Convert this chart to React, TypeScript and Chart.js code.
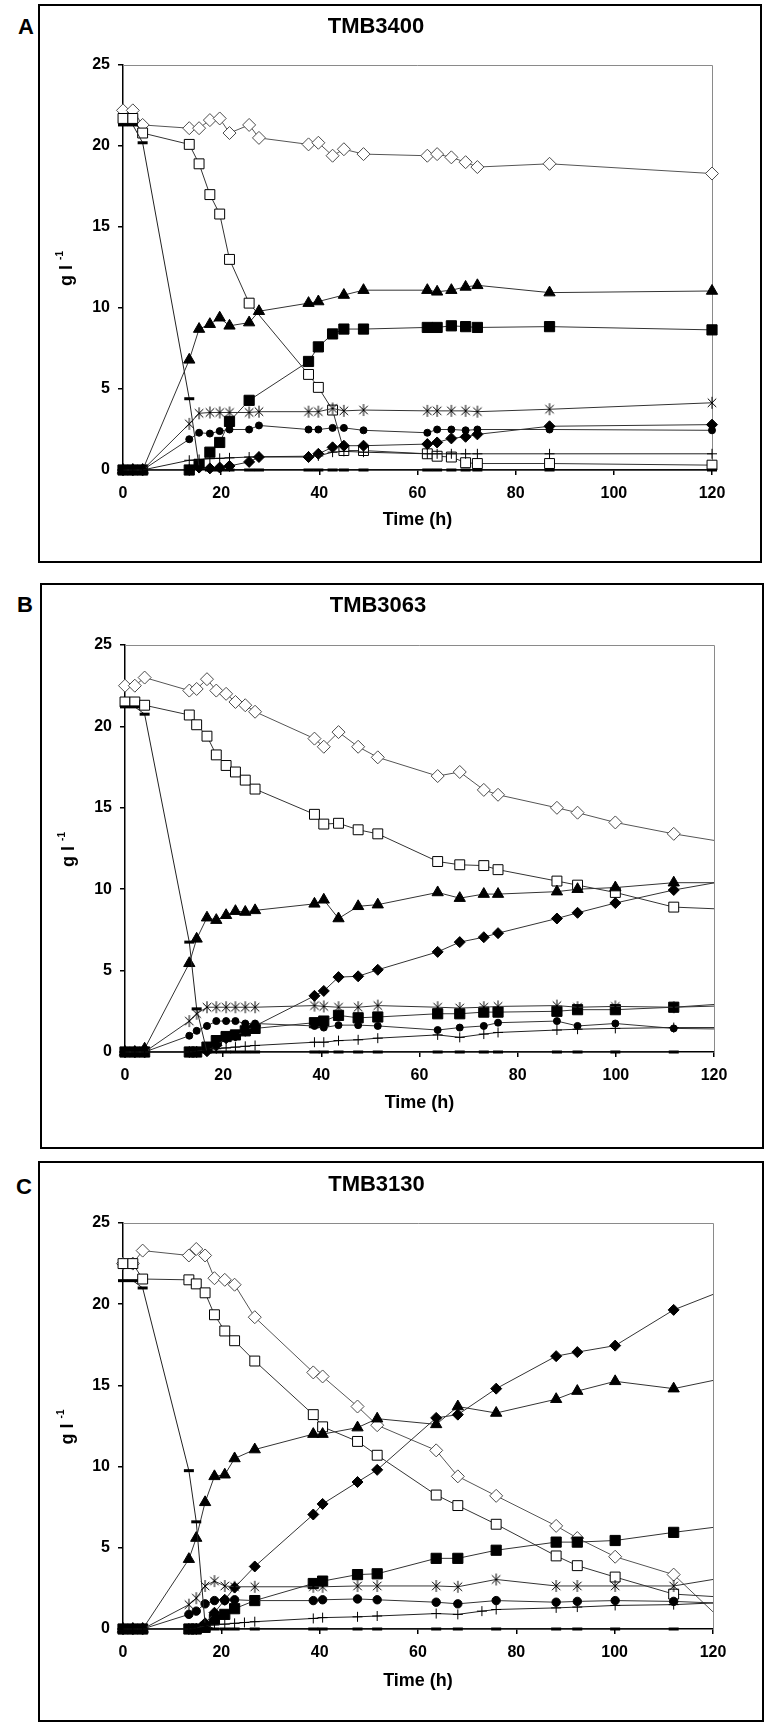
import React, { useEffect, useRef } from 'react';
import { Chart, registerables } from 'chart.js';

Chart.register(...registerables);

const FONT = '"Liberation Sans", Arial, Helvetica, sans-serif';

// ---------------- Panel A: TMB3400 ----------------
const timesA = [0, 2, 4, 13.5, 15.5, 17.7, 19.7, 21.7, 25.7, 27.7, 37.8, 39.8, 42.7, 45, 49, 62, 64, 66.9, 69.8, 72.2, 86.9, 120];
const openDiamondA = [22.2, 22.2, 21.3, 21.1, 21.1, 21.6, 21.7, 20.8, 21.3, 20.5, 20.1, 20.2, 19.4, 19.8, 19.5, 19.4, 19.5, 19.3, 19.0, 18.7, 18.9, 18.3];
const openSquareA = [21.7, 21.7, 20.8, 20.1, 18.9, 17.0, 15.8, 13.0, 10.3, null, 5.9, 5.1, 3.7, 1.2, 1.2, 1.0, 0.85, 0.8, 0.45, 0.4, 0.4, 0.3];
const triangleA = [0, 0, 0, 6.8, 8.7, 9.0, 9.4, 8.9, 9.1, 9.8, 10.3, 10.4, null, 10.8, 11.1, 11.1, 11.0, 11.1, 11.3, 11.4, 10.95, 11.05];
const filledSquareA = [0, 0, 0, 0, 0.35, 1.1, 1.7, 3.0, 4.3, null, 6.7, 7.6, 8.4, 8.7, 8.7, 8.8, 8.8, 8.9, 8.85, 8.8, 8.85, 8.65];
const asteriskA = [0, 0, 0, 2.85, 3.5, 3.55, 3.55, 3.55, 3.55, 3.6, 3.6, 3.6, 3.8, 3.65, 3.7, 3.65, 3.65, 3.65, 3.65, 3.6, 3.75, 4.15];
const circleA = [0, 0, 0, 1.9, 2.3, 2.25, 2.4, 2.5, 2.5, 2.75, 2.5, 2.5, 2.6, 2.6, 2.45, 2.3, 2.5, 2.5, 2.45, 2.5, 2.5, 2.45];
const filledDiamondA = [0, 0, 0, 0, 0.15, 0.1, 0.15, 0.25, 0.5, 0.8, 0.8, 1.0, 1.4, 1.5, 1.5, 1.6, 1.7, 1.95, 2.05, 2.2, 2.7, 2.8];
const plusA = [0, 0, 0, 0.6, 0.65, 0.7, 0.72, 0.75, 0.8, 0.82, 0.85, 0.87, 1.1, 1.15, 1.1, 1.0, 1.0, 1.0, 1.0, 1.0, 1.0, 1.0];
const dashA = [21.3, 21.3, 20.2, 4.4, 0.2, 0, 0, 0, 0, 0, 0, 0, 0, 0, 0, 0, 0, 0, 0, 0, 0, 0];

// ---------------- Panel B: TMB3063 ----------------
const timesB = [0, 2, 4, 13.1, 14.6, 16.7, 18.6, 20.6, 22.5, 24.5, 26.5, 38.6, 40.5, 43.5, 47.5, 51.5, 63.7, 68.2, 73.1, 76, 88, 92.2, 99.9, 111.8, 124];
const openDiamondB = [22.5, 22.5, 23.0, 22.2, 22.3, 22.9, 22.2, 22.0, 21.5, 21.3, 20.9, 19.25, 18.75, 19.65, 18.75, 18.1, 16.95, 17.2, 16.1, 15.8, 15.0, 14.7, 14.1, 13.4, 12.8];
const openSquareB = [21.5, 21.5, 21.3, 20.7, 20.1, 19.4, 18.25, 17.6, 17.2, 16.7, 16.15, 14.6, 14.0, 14.05, 13.65, 13.4, 11.7, 11.5, 11.45, 11.2, 10.5, 10.25, 9.8, 8.9, 8.75];
const triangleB = [0, 0, 0.2, 5.45, 6.95, 8.25, 8.1, 8.4, 8.65, 8.6, 8.7, 9.1, 9.35, 8.2, 8.95, 9.05, 9.8, 9.45, 9.7, 9.7, 9.85, 10.0, 10.1, 10.4, 10.4];
const filledSquareB = [0, 0, 0, 0, 0, 0.3, 0.7, 0.95, 1.05, 1.3, 1.45, 1.8, 1.9, 2.25, 2.1, 2.15, 2.35, 2.35, 2.45, 2.45, 2.5, 2.6, 2.6, 2.75, 2.85];
const asteriskB = [0, 0, 0, 1.9, 2.35, 2.75, 2.75, 2.75, 2.75, 2.75, 2.75, 2.85, 2.8, 2.75, 2.75, 2.85, 2.75, 2.7, 2.75, 2.8, 2.85, 2.75, 2.8, 2.75, 3.0];
const circleB = [0, 0, 0, 1.0, 1.3, 1.6, 1.9, 1.9, 1.9, 1.75, 1.75, 1.6, 1.5, 1.65, 1.65, 1.6, 1.35, 1.5, 1.6, 1.8, 1.9, 1.6, 1.75, 1.45, 1.4];
const filledDiamondB = [0, 0, 0, 0, 0, 0.05, 0.4, 0.85, 1.0, 1.3, 1.6, 3.45, 3.75, 4.6, 4.65, 5.05, 6.15, 6.75, 7.05, 7.3, 8.2, 8.55, 9.15, 9.95, 10.6];
const plusB = [0, 0, 0, 0, 0.05, 0.15, 0.2, 0.25, 0.3, 0.35, 0.4, 0.6, 0.6, 0.7, 0.75, 0.85, 1.05, 0.9, 1.1, 1.2, 1.35, 1.4, 1.45, 1.5, 1.5];
const dashB = [21.2, 21.2, 20.75, 6.75, 2.65, 0, 0, 0, 0, 0, 0, 0, 0, 0, 0, 0, 0, 0, 0, 0, 0, 0, 0, 0, null];

// ---------------- Panel C: TMB3130 ----------------
const timesC = [0, 2, 4, 13.4, 14.9, 16.7, 18.6, 20.7, 22.7, 24.7, 26.8, 38.7, 40.6, 47.7, 51.7, 63.7, 68.1, 73, 75.9, 88.1, 92.4, 100.1, 112, 122];
const openDiamondC = [22.5, 22.5, 23.3, 23.0, 23.4, 23.0, 21.6, 21.5, 21.2, null, 19.2, 15.8, 15.55, 13.7, 12.55, 11.0, 9.4, null, 8.2, 6.35, 5.6, 4.45, 3.35, 0.48];
const openSquareC = [22.5, 22.5, 21.55, 21.5, 21.25, 20.7, 19.35, 18.35, 17.75, null, 16.5, 13.2, 12.45, 11.55, 10.7, 8.25, 7.6, null, 6.45, 4.5, 3.9, 3.2, 2.15, 1.96];
const triangleC = [0, 0, 0, 4.3, 5.6, 7.8, 9.4, 9.5, 10.5, null, 11.05, 12.0, 12.0, 12.4, 12.95, 12.6, 13.7, null, 13.3, 14.15, 14.65, 15.25, 14.8, 15.43];
const filledSquareC = [0, 0, 0, 0, 0, 0.1, 0.6, 0.9, 1.25, null, 1.75, 2.8, 2.95, 3.35, 3.4, 4.35, 4.35, null, 4.85, 5.35, 5.35, 5.45, 5.95, 6.33];
const asteriskC = [0, 0, 0, 1.5, 1.9, 2.65, 2.95, 2.65, 2.6, null, 2.6, 2.6, 2.6, 2.65, 2.65, 2.65, 2.6, null, 3.05, 2.65, 2.65, 2.65, 2.65, 3.15];
const circleC = [0, 0, 0, 0.9, 1.1, 1.55, 1.75, 1.75, 1.8, null, 1.75, 1.75, 1.8, 1.85, 1.8, 1.65, 1.55, null, 1.75, 1.65, 1.7, 1.75, 1.7, 1.58];
const filledDiamondC = [0, 0, 0, 0, 0, 0.35, 1.0, 1.8, 2.55, null, 3.85, 7.05, 7.7, 9.05, 9.8, 13.0, 13.2, null, 14.8, 16.8, 17.05, 17.45, 19.65, 20.84];
const plusC = [0, 0, 0, 0, 0.05, 0.2, 0.25, 0.3, 0.35, 0.4, 0.45, 0.65, 0.7, 0.75, 0.8, 0.95, 0.9, 1.1, 1.2, 1.3, 1.35, 1.45, 1.5, 1.63];
const dashC = [21.45, 21.45, 21.0, 9.75, 6.6, 0.3, 0, 0, 0, null, 0, 0, 0, 0, 0, 0, 0, null, 0, 0, 0, 0, 0, null];

// axis ticks
const xTickStep = 20;
const xMin = 0;
const xMax = 120;
const yTickStep = 5;
const yMin = 0;
const yMax = 25;

// ---------------- styles ----------------
type Style = {
  key: string;
  pointStyle: string;
  radius: number;
  bg: string;
  border: string;
  bw: number;
  line: string;
};

const STYLES: Style[] = [
  { key: 'dash', pointStyle: 'line', radius: 5, bg: '#000', border: '#000', bw: 3, line: '#222' },
  { key: 'plus', pointStyle: 'cross', radius: 5, bg: '#000', border: '#000', bw: 1, line: '#222' },
  { key: 'circle', pointStyle: 'circle', radius: 3.5, bg: '#000', border: '#000', bw: 1, line: '#333' },
  { key: 'asterisk', pointStyle: 'asterisk', radius: 6, bg: '#000', border: '#000', bw: 1, line: '#333' },
  { key: 'filledDiamond', pointStyle: 'rectRot', radius: 5.5, bg: '#000', border: '#000', bw: 1, line: '#333' },
  { key: 'filledSquare', pointStyle: 'rect', radius: 7.2, bg: '#000', border: '#000', bw: 1, line: '#333' },
  { key: 'triangle', pointStyle: 'triangle', radius: 6.5, bg: '#000', border: '#000', bw: 1, line: '#333' },
  { key: 'openSquare', pointStyle: 'rect', radius: 7, bg: '#fff', border: '#000', bw: 1, line: '#333' },
  { key: 'openDiamond', pointStyle: 'rectRot', radius: 6.5, bg: '#fff', border: '#4a4a4a', bw: 1, line: '#555' },
];

type PanelCfg = {
  letter: string;
  title: string;
  times: number[];
  series: Record<string, (number | null)[]>;
  box: { left: number; top: number; w: number; h: number };
  plotLeft: number;
  plotRight: number;
  plotTop: number;
  plotBottom: number;
  titleY: number;
  xTitleY: number;
  yTitleX: number;
  letterPos: { x: number; y: number };
  clipRight: number;
  circleR: number;
};

const PANELS: PanelCfg[] = [
  {
    letter: 'A',
    title: 'TMB3400',
    times: timesA,
    series: {
      openDiamond: openDiamondA, openSquare: openSquareA, triangle: triangleA, filledSquare: filledSquareA,
      asterisk: asteriskA, circle: circleA, filledDiamond: filledDiamondA, plus: plusA, dash: dashA,
    },
    box: { left: 38, top: 4, w: 724, h: 559 },
    plotLeft: 83, plotRight: 672, plotTop: 59, plotBottom: 464,
    titleY: 21, xTitleY: 514.5, yTitleX: 27,
    letterPos: { x: 26, y: 27 },
    clipRight: 12, circleR: 3.5,
  },
  {
    letter: 'B',
    title: 'TMB3063',
    times: timesB,
    series: {
      openDiamond: openDiamondB, openSquare: openSquareB, triangle: triangleB, filledSquare: filledSquareB,
      asterisk: asteriskB, circle: circleB, filledDiamond: filledDiamondB, plus: plusB, dash: dashB,
    },
    box: { left: 40, top: 583, w: 724, h: 566 },
    plotLeft: 83, plotRight: 672, plotTop: 60, plotBottom: 467,
    titleY: 20.5, xTitleY: 518, yTitleX: 27,
    letterPos: { x: 25, y: 605 },
    clipRight: 0, circleR: 3.5,
  },
  {
    letter: 'C',
    title: 'TMB3130',
    times: timesC,
    series: {
      openDiamond: openDiamondC, openSquare: openSquareC, triangle: triangleC, filledSquare: filledSquareC,
      asterisk: asteriskC, circle: circleC, filledDiamond: filledDiamondC, plus: plusC, dash: dashC,
    },
    box: { left: 38, top: 1161, w: 726, h: 561 },
    plotLeft: 83, plotRight: 673, plotTop: 60, plotBottom: 466,
    titleY: 22, xTitleY: 518, yTitleX: 28,
    letterPos: { x: 24, y: 1187 },
    clipRight: 0, circleR: 4.2,
  },
];

// custom six-armed asterisk marker (X plus vertical bar)
function makeAsterisk(r: number): HTMLCanvasElement {
  const size = Math.ceil(r * 2 + 2);
  const c = document.createElement('canvas');
  c.width = size;
  c.height = size;
  const g = c.getContext('2d')!;
  const m = size / 2;
  const d = r * Math.SQRT1_2;
  g.strokeStyle = '#000';
  g.lineWidth = 1;
  g.beginPath();
  g.moveTo(m, m - r);
  g.lineTo(m, m + r);
  g.moveTo(m - d, m - d);
  g.lineTo(m + d, m + d);
  g.moveTo(m - d, m + d);
  g.lineTo(m + d, m - d);
  g.stroke();
  return c;
}

const framePlugin = {
  id: 'plotFrame',
  beforeDatasetsDraw(chart: any) {
    const { ctx, chartArea: a } = chart;
    ctx.save();
    ctx.strokeStyle = '#8a8a8a';
    ctx.lineWidth = 1;
    ctx.beginPath();
    ctx.moveTo(a.left, Math.round(a.top) + 0.5);
    ctx.lineTo(Math.round(a.right) + 0.5, Math.round(a.top) + 0.5);
    ctx.lineTo(Math.round(a.right) + 0.5, a.bottom);
    ctx.stroke();
    ctx.restore();
  },
};

const yTitlePlugin = {
  id: 'yTitleSup',
  afterDraw(chart: any, _args: any, opts: any) {
    const { ctx, chartArea: a } = chart;
    const cx = opts.x;
    const cy = (a.top + a.bottom) / 2 + 1;
    ctx.save();
    ctx.translate(cx, cy);
    ctx.rotate(-Math.PI / 2);
    ctx.fillStyle = '#000';
    ctx.textBaseline = 'alphabetic';
    ctx.textAlign = 'left';
    const f1 = `bold 18px ${FONT}`;
    const f2 = `bold 10px ${FONT}`;
    ctx.font = f1;
    const w1 = ctx.measureText('g l ').width;
    ctx.font = f2;
    const w2 = ctx.measureText('-1').width;
    const x0 = -(w1 + w2) / 2;
    ctx.font = f1;
    ctx.fillText('g l ', x0, 5);
    ctx.font = f2;
    ctx.fillText('-1', x0 + w1, -4);
    ctx.restore();
  },
};

function buildConfig(p: PanelCfg): any {
  const canvasW = p.box.w - 4;
  const canvasH = p.box.h - 4;
  const datasets = STYLES.map((s) => {
    const vals = p.series[s.key];
    const data: { x: number; y: number }[] = [];
    p.times.forEach((t, i) => {
      const v = vals[i];
      if (v !== null && v !== undefined) data.push({ x: t, y: v });
    });
    const r = s.key === 'circle' ? p.circleR : s.radius;
    const ps: any = s.pointStyle === 'asterisk' ? makeAsterisk(r) : s.pointStyle;
    return {
      label: s.key,
      data,
      borderColor: s.line,
      borderWidth: 1,
      pointStyle: ps,
      pointRadius: r,
      pointHoverRadius: r,
      pointBackgroundColor: s.bg,
      pointBorderColor: s.border,
      pointBorderWidth: s.bw,
      tension: 0,
      fill: false,
      clip: { left: 12, top: 12, bottom: 12, right: p.clipRight },
    };
  });
  const titleLH = 22 * 1.2;
  const titlePadTop = p.titleY - titleLH / 2;
  return {
    type: 'line',
    data: { datasets },
    options: {
      responsive: false,
      animation: false,
      events: [],
      layout: { padding: { left: 0, top: 0, bottom: 0, right: canvasW - p.plotRight } },
      plugins: {
        legend: { display: false },
        tooltip: { enabled: false },
        title: {
          display: true,
          text: p.title,
          color: '#000',
          font: { family: FONT, size: 22, weight: 'bold' },
          padding: { top: titlePadTop, bottom: p.plotTop - titlePadTop - titleLH },
        },
        yTitleSup: { x: p.yTitleX },
      },
      scales: {
        x: {
          type: 'linear',
          min: xMin,
          max: xMax,
          ticks: {
            stepSize: xTickStep,
            color: '#000',
            font: { family: FONT, size: 16, weight: 'bold' },
            padding: 8.5,
            maxRotation: 0,
            autoSkip: false,
          },
          grid: { drawOnChartArea: false, drawTicks: true, tickLength: 5, color: '#000', lineWidth: 1.5 },
          border: { display: true, color: '#000', width: 1.5 },
          title: {
            display: true,
            text: 'Time (h)',
            color: '#000',
            font: { family: FONT, size: 18, weight: 'bold' },
            padding: { top: 0, bottom: canvasH - p.xTitleY - 10.8 },
          },
          afterFit: (s: any) => {
            s.height = canvasH - p.plotBottom;
          },
        },
        y: {
          type: 'linear',
          min: yMin,
          max: yMax,
          ticks: {
            stepSize: yTickStep,
            color: '#000',
            font: { family: FONT, size: 16, weight: 'bold' },
            padding: 8,
          },
          grid: { drawOnChartArea: false, drawTicks: true, tickLength: 5, color: '#000', lineWidth: 1.5 },
          border: { display: true, color: '#000', width: 1.5 },
          afterFit: (s: any) => {
            s.width = p.plotLeft;
          },
        },
      },
    },
    plugins: [framePlugin, yTitlePlugin],
  };
}

function Panel({ cfg }: { cfg: PanelCfg }) {
  const ref = useRef<HTMLCanvasElement>(null);
  useEffect(() => {
    if (!ref.current) return;
    const chart = new Chart(ref.current, buildConfig(cfg));
    return () => chart.destroy();
  }, [cfg]);
  const { box } = cfg;
  return (
    <>
      <div
        style={{
          position: 'absolute',
          left: box.left,
          top: box.top,
          width: box.w,
          height: box.h,
          border: '2px solid #000',
          boxSizing: 'border-box',
          background: '#fff',
        }}
      />
      <canvas
        ref={ref}
        width={box.w - 4}
        height={box.h - 4}
        style={{ position: 'absolute', left: box.left + 2, top: box.top + 2, width: box.w - 4, height: box.h - 4 }}
      />
      <div
        style={{
          position: 'absolute',
          left: cfg.letterPos.x,
          top: cfg.letterPos.y,
          transform: 'translate(-50%, -50%)',
          font: `bold 22px ${FONT}`,
          color: '#000',
          lineHeight: 1,
        }}
      >
        {cfg.letter}
      </div>
    </>
  );
}

export default function App() {
  return (
    <div style={{ position: 'absolute', left: 0, top: 0, width: 768, height: 1725, background: '#fff' }}>
      {PANELS.map((p) => (
        <Panel key={p.letter} cfg={p} />
      ))}
    </div>
  );
}
